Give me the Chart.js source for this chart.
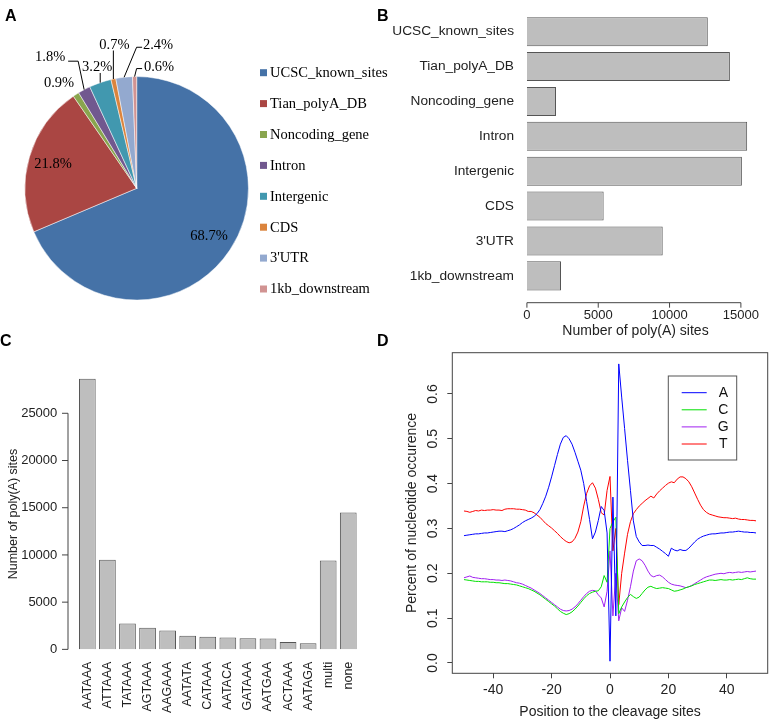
<!DOCTYPE html>
<html><head><meta charset="utf-8">
<script src="https://cdn.jsdelivr.net/npm/chart.js@4"></script>
<style>
html,body{margin:0;padding:0;background:#fff;}
#wrap{position:relative;width:774px;height:722px;overflow:hidden;background:#fff;}
canvas{position:absolute;}
.lbl{position:absolute;font:bold 16px "Liberation Sans",Arial,sans-serif;line-height:16px;color:#000;}
</style></head><body>
<div id="wrap">
<canvas id="cA" width="390" height="340" style="left:0;top:0"></canvas>
<canvas id="cB" width="384" height="340" style="left:390px;top:0"></canvas>
<canvas id="cC" width="390" height="382" style="left:0;top:340px"></canvas>
<canvas id="cD" width="384" height="382" style="left:390px;top:340px"></canvas>
<div class="lbl" style="left:5px;top:8px">A</div>
<div class="lbl" style="left:377px;top:8px">B</div>
<div class="lbl" style="left:0px;top:333px">C</div>
<div class="lbl" style="left:377px;top:333px">D</div>
</div>
<script>
// ---------- DATA ----------
const pieCategories = ["UCSC_known_sites","Tian_polyA_DB","Noncoding_gene","Intron","Intergenic","CDS","3'UTR","1kb_downstream"];
const piePercent = [68.7, 21.8, 0.9, 1.8, 3.2, 0.7, 2.4, 0.6];
const pieColors = ["#4572A7","#AA4643","#89A54E","#71588F","#4198AF","#DB843D","#93A9CF","#D19392"];

const regionCategories = ["UCSC_known_sites","Tian_polyA_DB","Noncoding_gene","Intron","Intergenic","CDS","3'UTR","1kb_downstream"];
const regionCounts = [12680, 14230, 2040, 15440, 15070, 5380, 9520, 2390];
const regionTicks = [0, 5000, 10000, 15000];

const signalCategories = ["AATAAA","ATTAAA","TATAAA","AGTAAA","AAGAAA","AATATA","CATAAA","AATACA","GATAAA","AATGAA","ACTAAA","AATAGA","multi","none"];
const signalCounts = [28670, 9480, 2740, 2300, 2000, 1440, 1340, 1270, 1170, 1140, 770, 640, 9410, 14490];
const signalTicks = [0, 5000, 10000, 15000, 20000, 25000];

const positions = [-50,-49,-48,-47,-46,-45,-44,-43,-42,-41,-40,-39,-38,-37,-36,-35,-34,-33,-32,-31,-30,-29,-28,-27,-26,-25,-24,-23,-22,-21,-20,-19,-18,-17,-16,-15,-14,-13,-12,-11,-10,-9,-8,-7,-6,-5,-4,-3,-2,-1,0,1,2,3,4,5,6,7,8,9,10,11,12,13,14,15,16,17,18,19,20,21,22,23,24,25,26,27,28,29,30,31,32,33,34,35,36,37,38,39,40,41,42,43,44,45,46,47,48,49,50];
const nucleotides = ["A","C","G","T"];
const freqA = [0.284,0.285,0.286,0.287,0.288,0.288,0.289,0.290,0.290,0.291,
 0.292,0.293,0.294,0.294,0.293,0.295,0.297,0.300,0.304,0.308,
 0.313,0.317,0.320,0.323,0.327,0.333,0.342,0.356,0.372,0.392,
 0.415,0.440,0.465,0.488,0.503,0.507,0.500,0.488,0.470,0.450,
 0.430,0.400,0.360,0.320,0.277,0.292,0.318,0.349,0.340,0.290,
 0.004,0.370,0.105,0.667,0.593,0.523,0.452,0.385,0.317,0.282,
 0.270,0.262,0.262,0.263,0.262,0.262,0.258,0.254,0.249,0.244,
 0.238,0.256,0.252,0.250,0.253,0.251,0.251,0.256,0.263,0.270,
 0.276,0.280,0.283,0.285,0.287,0.288,0.288,0.289,0.290,0.290,
 0.291,0.292,0.292,0.293,0.294,0.293,0.292,0.292,0.291,0.291,0.290];
const freqC = [0.186,0.185,0.184,0.183,0.182,0.182,0.181,0.181,0.181,0.180,
 0.180,0.179,0.179,0.178,0.177,0.177,0.176,0.175,0.174,0.172,
 0.170,0.168,0.166,0.163,0.160,0.156,0.152,0.147,0.142,0.137,
 0.132,0.127,0.121,0.115,0.111,0.108,0.110,0.114,0.120,0.127,
 0.135,0.143,0.150,0.155,0.158,0.160,0.161,0.170,0.195,0.180,
 0.300,0.315,0.325,0.110,0.125,0.136,0.146,0.153,0.148,0.144,
 0.147,0.155,0.163,0.169,0.171,0.168,0.166,0.167,0.168,0.167,
 0.166,0.163,0.160,0.161,0.163,0.165,0.168,0.170,0.172,0.175,
 0.177,0.179,0.181,0.183,0.185,0.185,0.184,0.185,0.186,0.185,
 0.185,0.186,0.185,0.186,0.187,0.186,0.188,0.190,0.188,0.187,0.187];
const freqG = [0.190,0.192,0.194,0.191,0.190,0.189,0.188,0.188,0.187,0.186,
 0.186,0.185,0.185,0.184,0.185,0.184,0.183,0.181,0.179,0.178,
 0.176,0.173,0.170,0.167,0.163,0.159,0.155,0.150,0.145,0.140,
 0.135,0.130,0.125,0.120,0.117,0.116,0.117,0.120,0.125,0.132,
 0.140,0.148,0.155,0.160,0.162,0.161,0.152,0.145,0.125,0.160,
 0.250,0.105,0.200,0.094,0.123,0.115,0.140,0.170,0.205,0.228,
 0.232,0.228,0.218,0.205,0.195,0.192,0.195,0.196,0.192,0.186,
 0.180,0.176,0.174,0.173,0.172,0.170,0.168,0.170,0.173,0.177,
 0.181,0.185,0.189,0.192,0.194,0.196,0.198,0.199,0.200,0.199,
 0.201,0.202,0.201,0.202,0.203,0.202,0.203,0.204,0.203,0.204,0.205];
const freqT = [0.339,0.338,0.336,0.338,0.340,0.339,0.341,0.340,0.341,0.341,
 0.342,0.341,0.341,0.340,0.343,0.344,0.344,0.344,0.343,0.343,
 0.342,0.341,0.338,0.338,0.335,0.330,0.325,0.318,0.311,0.306,
 0.301,0.295,0.289,0.282,0.276,0.271,0.268,0.270,0.278,0.292,
 0.315,0.350,0.378,0.395,0.402,0.390,0.365,0.335,0.330,0.385,
 0.416,0.250,0.300,0.130,0.200,0.245,0.287,0.315,0.333,0.342,
 0.350,0.356,0.362,0.367,0.372,0.368,0.377,0.384,0.390,0.396,
 0.401,0.404,0.402,0.410,0.415,0.415,0.411,0.404,0.393,0.379,
 0.365,0.352,0.342,0.336,0.332,0.330,0.328,0.326,0.325,0.324,
 0.324,0.323,0.322,0.323,0.321,0.320,0.320,0.319,0.318,0.318,0.317];
const positionTicks = [-40, -20, 0, 20, 40];
const freqTicks = [0, 0.1, 0.2, 0.3, 0.4, 0.5, 0.6];

// ---------- STYLE ----------
Chart.defaults.font.family = '"Liberation Sans", Arial, sans-serif';
Chart.defaults.color = '#222';
const SERIF = '"Liberation Serif", "Times New Roman", serif';
const lineColors = ["#0000FF","#00E000","#A020F0","#FF0000"];
const AXIS_COLOR = '#444';
const plainNum = v => String(v);

const PIE_LABEL_STYLE = [
  {inside: 0.777},
  {inside: 0.78},
  {label: [-17, -11]},
  {label: [-34, -32], leader: [[-6, -28.5], [-16, -28.5]]},
  {label: [-3, -15.5], leader: [[0, -9.7]]},
  {label: [1, -34], leader: [[0, -28.5]]},
  {label: [34, -32], leader: [[12.5, -30], [18, -30]]},
  {label: [24.4, -9.3], leader: [[2, -8], [7.5, -8]]}
];
const PIE_LEGEND = {x: 260, y0: 72.7, dy: 30.9, box: 7, textX: 270};

const pieLabelPlugin = {
  id: 'pieLabels',
  afterDraw(chart) {
    const ctx = chart.ctx;
    const meta = chart.getDatasetMeta(0);
    const ds = chart.data.datasets[0];
    ctx.save();
    ctx.font = '14.5px ' + SERIF;
    ctx.fillStyle = '#000';
    ctx.strokeStyle = '#000';
    ctx.lineWidth = 1;
    ctx.textAlign = 'center';
    ctx.textBaseline = 'middle';
    meta.data.forEach((arc, i) => {
      const p = arc.getProps(['x','y','startAngle','endAngle','outerRadius'], true);
      const mid = (p.startAngle + p.endAngle) / 2;
      const text = ds.data[i].toFixed(1) + '%';
      const st = PIE_LABEL_STYLE[i];
      if (st.inside) {
        const r = p.outerRadius * st.inside;
        ctx.fillText(text, p.x + Math.cos(mid) * r, p.y + Math.sin(mid) * r);
      } else {
        const ex = p.x + Math.cos(mid) * p.outerRadius;
        const ey = p.y + Math.sin(mid) * p.outerRadius;
        if (st.leader) {
          ctx.beginPath();
          ctx.moveTo(ex, ey);
          st.leader.forEach(([dx, dy]) => ctx.lineTo(ex + dx, ey + dy));
          ctx.stroke();
        }
        ctx.fillText(text, ex + st.label[0], ey + st.label[1]);
      }
    });
    // legend
    ctx.textAlign = 'left';
    chart.data.labels.forEach((lab, i) => {
      const y = PIE_LEGEND.y0 + i * PIE_LEGEND.dy;
      ctx.fillStyle = ds.backgroundColor[i];
      ctx.fillRect(PIE_LEGEND.x, y - PIE_LEGEND.box / 2, PIE_LEGEND.box, PIE_LEGEND.box);
      ctx.fillStyle = '#000';
      ctx.fillText(lab, PIE_LEGEND.textX, y + 0.5);
    });
    ctx.restore();
  }
};

new Chart(document.getElementById('cA'), {
  type: 'pie',
  data: {labels: pieCategories, datasets: [{data: piePercent, backgroundColor: pieColors, borderColor: '#fff', borderWidth: 0.5}]},
  options: {
    responsive: false, animation: false, devicePixelRatio: 1,
    layout: {padding: {left: 24.7, right: 141.3, top: 76.3, bottom: 39.7}},
    plugins: {legend: {display: false}, tooltip: {enabled: false}}
  },
  plugins: [pieLabelPlugin]
});

// R-style detached axis
function rAxis(id, axisKey, offset, tickLen) {
  return {
    id: id,
    afterDraw(chart) {
      const s = chart.scales[axisKey], ctx = chart.ctx, ca = chart.chartArea;
      const ps = s.ticks.map(t => s.getPixelForValue(t.value));
      ctx.save();
      ctx.strokeStyle = AXIS_COLOR; ctx.lineWidth = 1;
      ctx.beginPath();
      if (s.isHorizontal()) {
        const y = ca.bottom + offset;
        ctx.moveTo(ps[0], y); ctx.lineTo(ps[ps.length - 1], y);
        ps.forEach(x => { ctx.moveTo(x, y); ctx.lineTo(x, y + tickLen); });
      } else {
        const x = ca.left - offset;
        ctx.moveTo(x, ps[0]); ctx.lineTo(x, ps[ps.length - 1]);
        ps.forEach(y => { ctx.moveTo(x, y); ctx.lineTo(x - tickLen, y); });
      }
      ctx.stroke();
      ctx.restore();
    }
  };
}
function keepTicks(list) {
  return s => { s.ticks = list.map(v => ({value: v})); };
}
const noGrid = {display: false, drawTicks: false};

// ---------- B ----------
new Chart(document.getElementById('cB'), {
  type: 'bar',
  data: {labels: regionCategories, datasets: [{data: regionCounts, backgroundColor: '#BEBEBE', borderColor: '#555', borderWidth: 1, barPercentage: 0.833, categoryPercentage: 1}]},
  options: {
    indexAxis: 'y', responsive: false, animation: false, devicePixelRatio: 1,
    layout: {padding: {top: 0, right: 10, bottom: 0, left: 0}},
    plugins: {legend: {display: false}, tooltip: {enabled: false}},
    scales: {
      x: {type: 'linear', min: -484.5, max: 15710,
          grid: noGrid, border: {display: false},
          ticks: {padding: 14.6, font: {size: 13}, color: '#222', callback: plainNum},
          afterBuildTicks: keepTicks(regionTicks),
          title: {display: true, text: 'Number of poly(A) sites', font: {size: 14}, color: '#222', padding: {top: 0, bottom: 0}},
          afterFit: s => { s.height = 46.7; }},
      y: {grid: noGrid, border: {display: false},
          ticks: {padding: 6, font: {size: 13.7}, color: '#222', autoSkip: false},
          afterFit: s => { s.width = 130; }}
    }
  },
  plugins: [rAxis('axB', 'x', 9.4, 5)]
});

// ---------- C ----------
new Chart(document.getElementById('cC'), {
  type: 'bar',
  data: {labels: signalCategories, datasets: [{data: signalCounts, backgroundColor: '#BEBEBE', borderColor: '#555', borderWidth: 1, barPercentage: 0.833, categoryPercentage: 1}]},
  options: {
    responsive: false, animation: false, devicePixelRatio: 1,
    layout: {padding: {top: 10.9, right: 31.7, bottom: 0, left: 0}},
    plugins: {legend: {display: false}, tooltip: {enabled: false}},
    scales: {
      x: {grid: noGrid, border: {display: false},
          ticks: {minRotation: 90, maxRotation: 90, autoSkip: false, padding: 1.5, font: {size: 12.5}, color: '#222'},
          afterFit: s => { s.height = 61.8; }},
      y: {type: 'linear', min: -1147, max: 29817,
          grid: noGrid, border: {display: false},
          ticks: {padding: 20, font: {size: 13}, color: '#222', callback: plainNum},
          afterBuildTicks: keepTicks(signalTicks),
          title: {display: true, text: 'Number of poly(A) sites', font: {size: 12.5}, color: '#222', padding: {top: 5.8, bottom: 0}},
          afterFit: s => { s.width = 77.3; }}
    }
  },
  plugins: [rAxis('axC', 'y', 9.3, 6)]
});

// ---------- D ----------
const LEG_D = {x: 278.3, y: 36, w: 68.4, h: 84, lx1: 291.7, lx2: 316.7, tx: 333.3, ty0: 52.7, dy: 17.1};
const boxLegendPlugin = {
  id: 'boxLegend',
  afterDraw(chart) {
    const ctx = chart.ctx, ca = chart.chartArea;
    ctx.save();
    ctx.strokeStyle = AXIS_COLOR; ctx.lineWidth = 1;
    ctx.strokeRect(ca.left, ca.top, ca.right - ca.left, ca.bottom - ca.top);
    ctx.strokeStyle = '#555';
    ctx.strokeRect(LEG_D.x, LEG_D.y, LEG_D.w, LEG_D.h);
    ctx.font = '14px "Liberation Sans", Arial, sans-serif';
    ctx.textAlign = 'center'; ctx.textBaseline = 'middle';
    chart.data.datasets.forEach((ds, i) => {
      const y = LEG_D.ty0 + i * LEG_D.dy;
      ctx.strokeStyle = ds.borderColor; ctx.lineWidth = 1;
      ctx.beginPath(); ctx.moveTo(LEG_D.lx1, y); ctx.lineTo(LEG_D.lx2, y); ctx.stroke();
      ctx.fillStyle = '#111';
      ctx.fillText(ds.label, LEG_D.tx, y + 0.5);
    });
    ctx.restore();
  }
};
const freqSeries = [freqA, freqC, freqG, freqT];
new Chart(document.getElementById('cD'), {
  type: 'line',
  data: {datasets: nucleotides.map((n, i) => ({
    label: n,
    data: positions.map((p, j) => ({x: p, y: freqSeries[i][j]})),
    borderColor: lineColors[i], borderWidth: 1, pointRadius: 0, tension: 0, fill: false
  }))},
  options: {
    responsive: false, animation: false, devicePixelRatio: 1,
    layout: {padding: {top: 7.5, right: 6.3, bottom: 0, left: 0}},
    plugins: {legend: {display: false}, tooltip: {enabled: false}},
    scales: {
      x: {type: 'linear', min: -54, max: 54,
          grid: {display: true, drawOnChartArea: false, drawTicks: true, tickLength: 5, color: AXIS_COLOR},
          border: {display: false},
          ticks: {padding: 3.3, font: {size: 14}, color: '#222'},
          afterBuildTicks: keepTicks(positionTicks),
          title: {display: true, text: 'Position to the cleavage sites', font: {size: 14}, color: '#222', padding: {top: 0, bottom: 1.9}},
          afterFit: s => { s.height = 48.7; }},
      y: {type: 'linear', min: -0.023, max: 0.692,
          grid: {display: true, drawOnChartArea: false, drawTicks: true, tickLength: 5, color: AXIS_COLOR},
          border: {display: false},
          ticks: {minRotation: 90, maxRotation: 90, crossAlign: 'center', padding: 4.3, font: {size: 14}, color: '#222',
                  callback: v => Number(v).toFixed(1)},
          afterBuildTicks: keepTicks(freqTicks),
          title: {display: true, text: 'Percent of nucleotide occurence', font: {size: 14}, color: '#222', padding: {top: 13.3, bottom: 0}},
          afterFit: s => { s.width = 62.3; }}
    }
  },
  plugins: [boxLegendPlugin]
});
</script>
</body></html>
